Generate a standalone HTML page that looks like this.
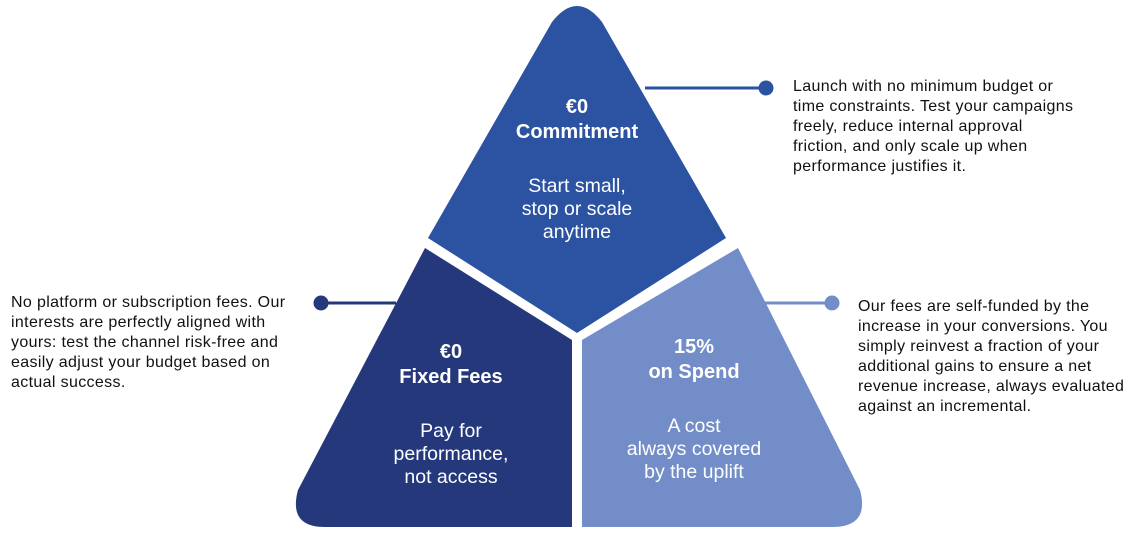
<!DOCTYPE html>
<html><head><meta charset="utf-8"><style>
body{margin:0;background:#fff;width:1135px;height:539px;overflow:hidden;font-family:"Liberation Sans",sans-serif}
svg{position:absolute;left:0;top:0}
.d{position:absolute;font-size:16px;letter-spacing:0.35px;line-height:20px;color:#111;white-space:nowrap}
</style></head><body>
<svg width="1135" height="539" viewBox="0 0 1135 539">
<path d="M552,22 Q577,-10 602,22 L726,238 L577,333 L428,238 Z" fill="#2b53a2"/>
<path d="M425,248 L572,340 L572,527 L325,527 Q288,527 298,490 Z" fill="#25387b"/>
<path d="M738,248 L860,490 Q870,527 832,527 L582,527 L582,340 Z" fill="#728dc7"/>
<line x1="645" y1="88" x2="766" y2="88" stroke="#2b53a2" stroke-width="3"/>
<circle cx="766" cy="88" r="7.5" fill="#2b53a2"/>
<line x1="321" y1="303" x2="396" y2="303" stroke="#25387b" stroke-width="3"/>
<circle cx="321" cy="303" r="7.5" fill="#25387b"/>
<line x1="762" y1="303" x2="832" y2="303" stroke="#728dc7" stroke-width="3"/>
<circle cx="832" cy="303" r="7.5" fill="#728dc7"/>
<g fill="#fff" text-anchor="middle" font-family="Liberation Sans, sans-serif">
<text x="577" y="113" font-size="20" font-weight="bold">€0</text>
<text x="577" y="138" font-size="20" font-weight="bold">Commitment</text>
<text x="577" y="192" font-size="19.5">Start small,</text>
<text x="577" y="215" font-size="19.5">stop or scale</text>
<text x="577" y="238" font-size="19.5">anytime</text>
<text x="451" y="358" font-size="20" font-weight="bold">€0</text>
<text x="451" y="383" font-size="20" font-weight="bold">Fixed Fees</text>
<text x="451" y="437" font-size="19.5">Pay for</text>
<text x="451" y="460" font-size="19.5">performance,</text>
<text x="451" y="483" font-size="19.5">not access</text>
<text x="694" y="353" font-size="20" font-weight="bold">15%</text>
<text x="694" y="378" font-size="20" font-weight="bold">on Spend</text>
<text x="694" y="432" font-size="19.5">A cost</text>
<text x="694" y="455" font-size="19.5">always covered</text>
<text x="694" y="478" font-size="19.5">by the uplift</text>
</g>
</svg>
<div class="d" style="left:793px;top:77px">Launch with no minimum budget or<br>time constraints. Test your campaigns<br>freely, reduce internal approval<br>friction, and only scale up when<br>performance justifies it.</div>
<div class="d" style="left:11px;top:293px">No platform or subscription fees. Our<br>interests are perfectly aligned with<br>yours: test the channel risk-free and<br>easily adjust your budget based on<br>actual success.</div>
<div class="d" style="left:858px;top:297px">Our fees are self-funded by the<br>increase in your conversions. You<br>simply reinvest a fraction of your<br>additional gains to ensure a net<br>revenue increase, always evaluated<br>against an incremental.</div>
</body></html>
